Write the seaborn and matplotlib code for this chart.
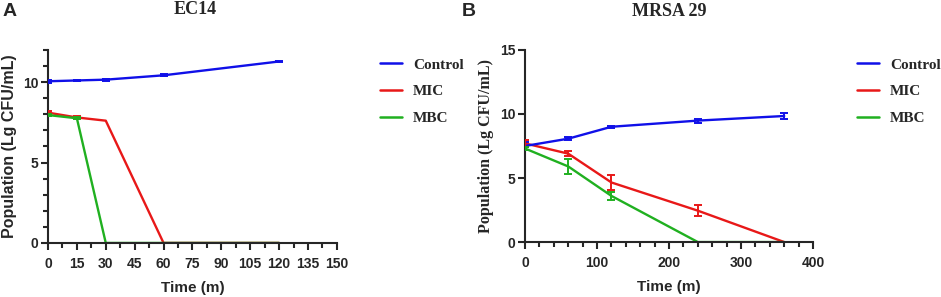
import numpy as np
import pandas as pd
import seaborn as sns
import matplotlib.pyplot as plt
from matplotlib.ticker import MultipleLocator

# EC14 time-kill data (mean, sd)
time_a = [0, 15, 30, 60, 120]
ctrl_a = [10.05, 10.1, 10.15, 10.42, 11.28]
ctrl_a_sd = [0.08, 0.05, 0.07, 0.06, 0.04]
mic_a = [8.1, 7.8, 7.6, 0, 0]
mic_a_sd = [0.1, 0.08, 0, 0, 0]
mbc_a = [7.95, 7.75, 0, 0, 0]
mbc_a_sd = [0.05, 0.05, 0, 0, 0]

# MRSA 29 time-kill data (mean, sd)
time_b = [0, 60, 120, 240, 360]
ctrl_b = [7.5, 8.07, 9.0, 9.48, 9.84]
ctrl_b_sd = [0.3, 0.1, 0.08, 0.15, 0.2]
mic_b = [7.7, 6.9, 4.65, 2.45, 0]
mic_b_sd = [0.3, 0.2, 0.55, 0.45, 0]
mbc_b = [7.3, 5.9, 3.6, 0, 0]
mbc_b_sd = [0.15, 0.55, 0.3, 0, 0]

groups = ["Control", "MIC", "MBC"]
colors = {"Control": "#1010e8", "MIC": "#e81818", "MBC": "#20b020"}

sans = "Liberation Sans"
serif = "Liberation Serif"

sns.set_style("ticks")
plt.rcParams["font.family"] = [sans, "DejaVu Sans"]
plt.rcParams["font.weight"] = "bold"


def long_df(t, c, m, b):
    return pd.DataFrame({
        "Time": t * 3,
        "Pop": c + m + b,
        "Group": ["Control"] * len(t) + ["MIC"] * len(t) + ["MBC"] * len(t),
    })


def draw(ax, t, series, sds, ylab_family, xmax, xmajor, xminor, ymax, yminor):
    df = long_df(t, *series)
    sns.lineplot(data=df, x="Time", y="Pop", hue="Group", hue_order=groups,
                 palette=colors, errorbar=None, linewidth=1.7, ax=ax)
    # keep MIC on top of MBC where both sit at zero
    for line in ax.get_lines():
        if line.get_label() == "MIC":
            line.set_zorder(4)
    ax.lines[0].set_zorder(5)
    for g, vals, sd in zip(groups, series, sds):
        keep = [i for i, s in enumerate(sd) if s > 0]
        ax.errorbar([t[i] for i in keep], [vals[i] for i in keep],
                    yerr=[sd[i] for i in keep], fmt="none", ecolor=colors[g],
                    elinewidth=1.4, capsize=3, capthick=1.4, zorder=6)
    ax.set_xlim(0, xmax)
    ax.set_ylim(0, ymax)
    ax.xaxis.set_major_locator(MultipleLocator(xmajor))
    ax.xaxis.set_minor_locator(MultipleLocator(xminor))
    ax.yaxis.set_major_locator(MultipleLocator(5))
    if yminor:
        ax.yaxis.set_minor_locator(MultipleLocator(yminor))
    ax.tick_params(which="major", length=5, width=1.5, labelsize=10, pad=2)
    ax.tick_params(axis="x", which="major", pad=5)
    ax.tick_params(which="minor", length=3.5, width=1.5)
    for lab in ax.get_xticklabels() + ax.get_yticklabels():
        lab.set_fontweight("bold")
    for s in ["left", "bottom"]:
        ax.spines[s].set_linewidth(1.5)
    sns.despine(ax=ax)
    ax.set_xlabel("Time (m)", fontsize=11, fontweight="bold", family=sans, labelpad=7)
    ax.set_ylabel("Population (Lg CFU/mL)", fontsize=11.5, fontweight="bold",
                  family=ylab_family, labelpad=4)
    ax.get_legend().remove()


fig = plt.figure(figsize=(9.41, 2.97), dpi=100)
ax1 = fig.add_axes([0.051, 0.182, 0.307, 0.650])
ax2 = fig.add_axes([0.558, 0.185, 0.306, 0.647])

draw(ax1, time_a, [ctrl_a, mic_a, mbc_a], [ctrl_a_sd, mic_a_sd, mbc_a_sd],
     sans, 150, 15, 7.5, 12, 1)
draw(ax2, time_b, [ctrl_b, mic_b, mbc_b], [ctrl_b_sd, mic_b_sd, mbc_b_sd],
     serif, 400, 100, 20, 15, None)

for ax, x0 in [(ax1, 380 / 941), (ax2, 857 / 941)]:
    handles = [plt.Line2D([], [], color=colors[g], lw=1.8) for g in groups]
    ax.legend(handles, groups, loc="upper left", bbox_to_anchor=(x0, 0.805),
              bbox_transform=fig.transFigure, frameon=False, borderpad=0,
              borderaxespad=0, handlelength=1.45, handletextpad=0.7,
              labelspacing=0.85, prop={"family": serif, "weight": "bold", "size": 11})

fig.text(195 / 941, 1 - 9 / 297, "EC14", fontsize=13, fontweight="bold",
         family=serif, ha="center", va="center")
fig.text(669 / 941, 1 - 12 / 297, "MRSA 29", fontsize=13, fontweight="bold",
         family=serif, ha="center", va="center")
fig.text(3 / 941, 1 - 12 / 297, "A", fontsize=14, fontweight="bold", family=sans, va="center")
fig.text(462 / 941, 1 - 12 / 297, "B", fontsize=14, fontweight="bold", family=sans, va="center")

fig.savefig("out.png", dpi=100)
